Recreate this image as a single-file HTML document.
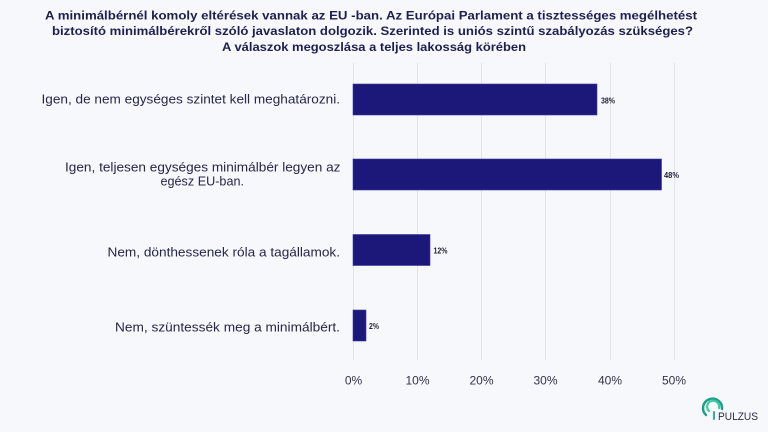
<!DOCTYPE html>
<html><head><meta charset="utf-8"><style>
html,body{margin:0;padding:0;background:#f7f8fb;}
svg{display:block;}
</style></head><body>
<svg width="768" height="432" viewBox="0 0 768 432" xmlns="http://www.w3.org/2000/svg">
<rect width="768" height="432" fill="#f7f8fb"/>
<g font-family="'Liberation Sans', 'DejaVu Sans', sans-serif" font-weight="bold" font-size="12" fill="#1f1f4f">
<text x="45" y="19.5" textLength="652" lengthAdjust="spacingAndGlyphs">A minimálbérnél komoly eltérések vannak az EU -ban. Az Európai Parlament a tisztességes megélhetést</text>
<text x="52" y="35" textLength="641" lengthAdjust="spacingAndGlyphs">biztosító minimálbérekről szóló javaslaton dolgozik. Szerinted is uniós szintű szabályozás szükséges?</text>
<text x="222" y="51" textLength="304" lengthAdjust="spacingAndGlyphs">A válaszok megoszlása a teljes lakosság körében</text>
</g>
<g stroke="#e3e4ea" stroke-width="1">
<line x1="353.5" y1="63" x2="353.5" y2="360"/>
<line x1="417.5" y1="63" x2="417.5" y2="360"/>
<line x1="481.5" y1="63" x2="481.5" y2="360"/>
<line x1="545.5" y1="63" x2="545.5" y2="360"/>
<line x1="610.5" y1="63" x2="610.5" y2="360"/>
<line x1="674.5" y1="63" x2="674.5" y2="360"/>
</g>
<g fill="#1b187a" stroke="#3a3a9a" stroke-width="0.6">
<rect x="353" y="84" width="244" height="31"/>
<rect x="353" y="159" width="308.5" height="31"/>
<rect x="353" y="234.5" width="77" height="31"/>
<rect x="353" y="310" width="13" height="31"/>
</g>
<g font-family="'Liberation Sans', 'DejaVu Sans', sans-serif" font-size="8" fill="#1f1f33" font-weight="bold">
<text x="601" y="103.5" textLength="14" lengthAdjust="spacingAndGlyphs">38%</text>
<text x="664" y="178" textLength="15" lengthAdjust="spacingAndGlyphs">48%</text>
<text x="433.5" y="253.5" textLength="14" lengthAdjust="spacingAndGlyphs">12%</text>
<text x="369" y="329" textLength="10" lengthAdjust="spacingAndGlyphs">2%</text>
</g>
<g font-family="'Liberation Sans', 'DejaVu Sans', sans-serif" font-size="12.5" fill="#262648">
<text x="41.5" y="103.5" textLength="298.5" lengthAdjust="spacingAndGlyphs">Igen, de nem egységes szintet kell meghatározni.</text>
<text x="65" y="171.5" textLength="275.5" lengthAdjust="spacingAndGlyphs">Igen, teljesen egységes minimálbér legyen az</text>
<text x="160.5" y="185.5" textLength="83.5" lengthAdjust="spacingAndGlyphs">egész EU-ban.</text>
<text x="107.5" y="256.5" textLength="232.5" lengthAdjust="spacingAndGlyphs">Nem, dönthessenek róla a tagállamok.</text>
<text x="115" y="331.5" textLength="225" lengthAdjust="spacingAndGlyphs">Nem, szüntessék meg a minimálbért.</text>
</g>
<g font-family="'Liberation Sans', 'DejaVu Sans', sans-serif" font-size="12" fill="#33334f" text-anchor="middle">
<text x="353.5" y="384.5">0%</text>
<text x="417.5" y="384.5">10%</text>
<text x="481.5" y="384.5">20%</text>
<text x="545.5" y="384.5">30%</text>
<text x="610" y="384.5">40%</text>
<text x="674" y="384.5">50%</text>
</g>
<g fill="none" stroke-linecap="round">
<path d="M706 415 A9.5 9.5 0 1 1 722 409" stroke="#1a9e86" stroke-width="2.4"/>
<path d="M709 411 A6 6 0 1 1 719 408" stroke="#3cc9a6" stroke-width="2.2"/>
<line x1="714" y1="412" x2="714" y2="419" stroke="#2bb596" stroke-width="2"/>
</g>
<text x="718" y="420" font-family="'Liberation Sans', 'DejaVu Sans', sans-serif" font-size="11" fill="#2a2a4c" textLength="40" lengthAdjust="spacingAndGlyphs">PULZUS</text>
</svg>
</body></html>
